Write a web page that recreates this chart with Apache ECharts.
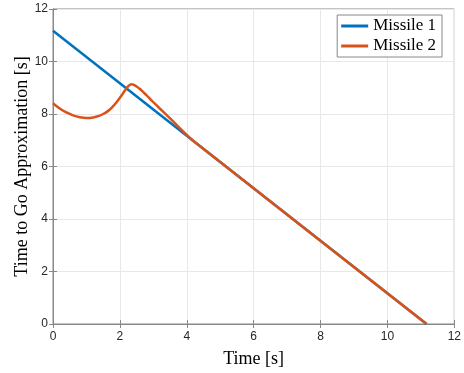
<!DOCTYPE html>
<html>
<head>
<meta charset="utf-8">
<script src="https://cdn.jsdelivr.net/npm/echarts@6/dist/echarts.min.js"></script>
<style>html,body{margin:0;padding:0;background:#fff;}#c{width:464px;height:373px;}</style>
</head>
<body>
<div id="c"></div>
<script>
var xTicks = [0, 2, 4, 6, 8, 10, 12];
var yTicks = [0, 2, 4, 6, 8, 10, 12];
var m1Time = [0, 11.17];
var m1Tgo = [11.17, 0];
var m2Time = [0, 0.2, 0.4, 0.6, 0.8, 1.0, 1.2, 1.4, 1.5, 1.6, 1.7, 1.8, 1.9, 2.0, 2.1, 2.2, 2.25, 2.3, 2.35, 2.4, 2.5, 2.6, 2.7, 2.8, 2.9, 3.0, 3.2, 3.4, 3.6, 3.8, 4.0, 4.2, 11.17];
var m2Tgo = [8.41, 8.21, 8.06, 7.95, 7.88, 7.85, 7.87, 7.94, 8.0, 8.07, 8.17, 8.3, 8.45, 8.62, 8.8, 8.98, 9.06, 9.11, 9.13, 9.12, 9.05, 8.95, 8.83, 8.71, 8.58, 8.45, 8.2, 7.96, 7.71, 7.45, 7.2, 6.97, 0];

function pairs(xs, ys) { return xs.map(function (x, i) { return [x, ys[i]]; }); }

var chart = echarts.init(document.getElementById('c'), null, {renderer: 'canvas'});
var axisCol = '#888888';
var gridCol = '#e8e8e8';
chart.setOption({
  animation: false,
  backgroundColor: '#ffffff',
  grid: {left: 53, right: 7, top: 9, bottom: 44, show: true, borderColor: axisCol, borderWidth: 1},
  legend: {
    orient: 'vertical', right: 22, top: 15, align: 'left',
    padding: [1, 6, 1, 4], itemGap: 0, itemWidth: 27, itemHeight: 3, icon: 'rect',
    borderColor: '#888888', borderWidth: 1, backgroundColor: '#ffffff',
    textStyle: {fontFamily: 'Liberation Serif', fontSize: 17, color: '#000', lineHeight: 20},
    data: ['Missile 1', 'Missile 2']
  },
  xAxis: [{
    type: 'value', min: xTicks[0], max: xTicks[xTicks.length - 1], interval: 2,
    name: 'Time [s]', nameLocation: 'middle', nameGap: 26, nameMoveOverlap: false,
    nameTextStyle: {fontFamily: 'Liberation Serif', fontSize: 18, color: '#000'},
    axisLine: {show: true, lineStyle: {color: axisCol}},
    axisTick: {show: true, inside: true, length: 4, lineStyle: {color: axisCol}},
    axisLabel: {fontFamily: 'Liberation Sans', fontSize: 12, color: '#262626', margin: 7},
    splitLine: {show: true, lineStyle: {color: gridCol}}
  }, {
    type: 'value', position: 'top', min: 0, max: 12, interval: 2,
    axisLine: {show: true, lineStyle: {color: axisCol}},
    axisTick: {show: true, inside: true, length: 4, lineStyle: {color: axisCol}},
    axisLabel: {show: false}, splitLine: {show: false}
  }],
  yAxis: [{
    type: 'value', min: yTicks[0], max: yTicks[yTicks.length - 1], interval: 2,
    name: 'Time to Go Approximation [s]', nameLocation: 'middle', nameGap: 22, nameMoveOverlap: false,
    nameTextStyle: {fontFamily: 'Liberation Serif', fontSize: 18, color: '#000'},
    axisLine: {show: true, lineStyle: {color: axisCol}},
    axisTick: {show: true, inside: true, length: 4, lineStyle: {color: axisCol}},
    axisLabel: {fontFamily: 'Liberation Sans', fontSize: 12, color: '#262626', margin: 5},
    splitLine: {show: true, lineStyle: {color: gridCol}}
  }, {
    type: 'value', position: 'right', min: 0, max: 12, interval: 2,
    axisLine: {show: true, lineStyle: {color: axisCol}},
    axisTick: {show: true, inside: true, length: 4, lineStyle: {color: axisCol}},
    axisLabel: {show: false}, splitLine: {show: false}
  }],
  series: [{
    name: 'Missile 1', type: 'line', data: pairs(m1Time, m1Tgo),
    showSymbol: false, symbol: 'none', lineStyle: {color: '#0072BD', width: 2.5}, itemStyle: {color: '#0072BD'}
  }, {
    name: 'Missile 2', type: 'line', data: pairs(m2Time, m2Tgo), smooth: 0.2,
    showSymbol: false, symbol: 'none', lineStyle: {color: '#D95319', width: 2.5}, itemStyle: {color: '#D95319'}
  }]
});
</script>
</body>
</html>
